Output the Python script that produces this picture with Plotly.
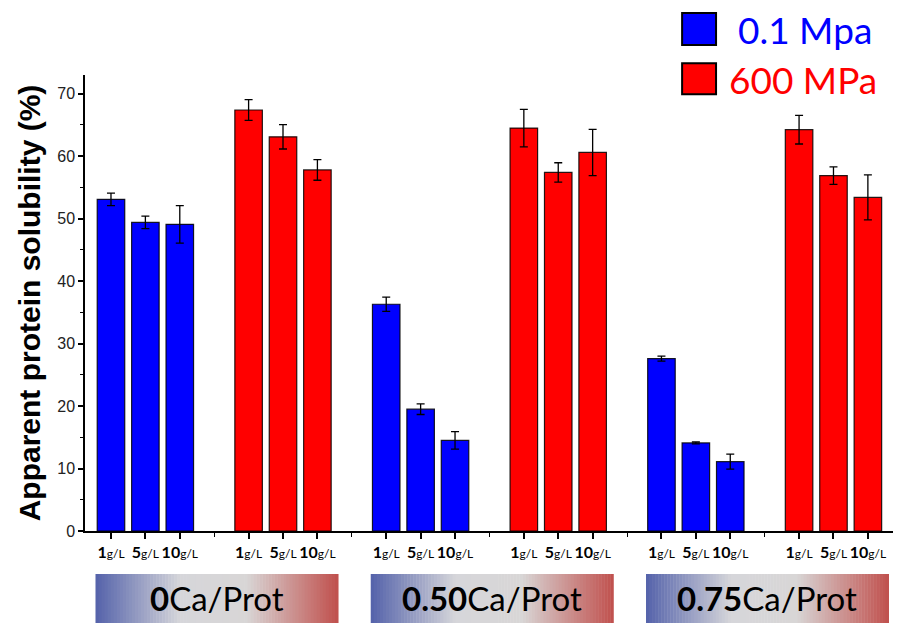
import plotly.graph_objects as go

# ---------------- data ----------------
groups = ["0", "0.50", "0.75"]                 # Ca/Prot ratio
concentrations = ["1", "5", "10"]              # g/L
pressures = ["0.1 Mpa", "600 MPa"]

blue_values = [53.1, 49.4, 49.1, 36.3, 19.5, 14.5, 27.6, 14.1, 11.1]
blue_errors = [1.0, 1.0, 3.0, 1.15, 0.85, 1.4, 0.4, 0.15, 1.2]
red_values = [67.4, 63.1, 57.8, 64.5, 57.4, 60.6, 64.25, 56.9, 53.4]
red_errors = [1.65, 1.95, 1.65, 3.0, 1.55, 3.7, 2.3, 1.4, 3.6]

colors = ["#0000FF", "#FF0000"]
text_colors = ["#0000FF", "#FF0000"]

# ---------------- layout helpers ----------------
def pos(g, p, c):
    return 1 + 8 * g + 4 * p + c

blue_x = [pos(g, 0, c) for g in range(3) for c in range(3)]
red_x = [pos(g, 1, c) for g in range(3) for c in range(3)]
tick_x = sorted(blue_x + red_x)
tick_text = ["<b>%s</b><span style='font-size:12px'>g/L</span>" % concentrations[(i % 3)]
             for i in range(len(tick_x))]

XR = [0.245, 23.73]
YR = [0, 73]

fig = go.Figure()
for xs, vals, errs, col, name in [(blue_x, blue_values, blue_errors, colors[0], pressures[0]),
                                  (red_x, red_values, red_errors, colors[1], pressures[1])]:
    fig.add_trace(go.Bar(
        x=xs, y=vals, width=0.8, name=name,
        marker=dict(color=col, line=dict(color="rgba(0,0,0,0.85)", width=1.2)),
        error_y=dict(type="data", array=errs, visible=True, color="black",
                     thickness=1.3, width=4),
        showlegend=False,
    ))

def xpaper(xd):
    return (xd - XR[0]) / (XR[1] - XR[0])

shapes = []
annotations = []

# gradient label boxes under each group
stops = [(0.0, (84, 98, 170)), (0.35, (214, 214, 218)), (0.62, (216, 214, 214)), (1.0, (192, 80, 77))]

def grad_color(t):
    for (t0, c0), (t1, c1) in zip(stops[:-1], stops[1:]):
        if t0 <= t <= t1:
            f = (t - t0) / (t1 - t0) if t1 > t0 else 0
            return "rgb(%d,%d,%d)" % tuple(round(a + (b - a) * f) for a, b in zip(c0, c1))
    return "rgb(%d,%d,%d)" % stops[-1][1]

N = 80
for gi, g in enumerate(groups):
    center = 4 + 8 * gi
    x0 = xpaper(center - 3.45)
    x1 = xpaper(center + 3.6)
    for k in range(N):
        a = x0 + (x1 - x0) * k / N
        b = x0 + (x1 - x0) * (k + 1) / N
        shapes.append(dict(type="rect", xref="paper", yref="paper", x0=a, x1=b + 0.0006,
                           y0=-0.2018, y1=-0.0943, line=dict(width=0),
                           fillcolor=grad_color((k + 0.5) / N), layer="above"))
    annotations.append(dict(xref="paper", yref="paper", x=(x0 + x1) / 2, y=-0.148,
                            text="<b>%s</b>Ca/Prot" % g, showarrow=False,
                            font=dict(family="Lato, Open Sans, sans-serif", size=33, color="black"),
                            xanchor="center", yanchor="middle"))

# custom legend
leg = [(1.0658, 1.136, 0.806, 1.100), (0.958, 1.026, 0.795, 0.991)]
for i, (y0, y1, tx, ty) in enumerate(leg):
    shapes.append(dict(type="rect", xref="paper", yref="paper", x0=0.739, x1=0.781,
                       y0=y0, y1=y1, fillcolor=colors[i], line=dict(color="black", width=2),
                       layer="above"))
    annotations.append(dict(xref="paper", yref="paper", x=tx, y=ty, text=pressures[i],
                            showarrow=False, xanchor="left", yanchor="middle",
                            font=dict(family="Lato, Open Sans, sans-serif", size=37,
                                      color=text_colors[i])))

# the page body adds an 8px offset; margins are reduced to compensate
fig.update_layout(
    width=905, height=625,
    margin=dict(l=77, r=20, t=67, b=102),
    plot_bgcolor="white", paper_bgcolor="white",
    shapes=shapes, annotations=annotations,
    barmode="overlay",
    xaxis=dict(range=XR, tickmode="array", tickvals=tick_x, ticktext=tick_text,
               ticks="outside", ticklen=6, tickwidth=1.5, tickcolor="black",
               showline=True, linecolor="black", linewidth=1.5, showgrid=False,
               zeroline=False,
               tickfont=dict(family="Lato, Open Sans, sans-serif", size=16, color="black"),
               minor=dict(tickmode="linear", tick0=0, dtick=4, ticks="outside",
                          ticklen=4, tickwidth=1.2, tickcolor="black", showgrid=False)),
    yaxis=dict(range=YR, dtick=10, ticks="outside", ticklen=5, tickwidth=1.5,
               tickcolor="black", showline=True, linecolor="black", linewidth=1.5,
               showgrid=False, zeroline=False,
               tickfont=dict(family="Arial, Liberation Sans, sans-serif", size=16, color="#222"),
               minor=dict(dtick=5, ticks="outside", ticklen=3, tickwidth=1.2,
                          tickcolor="black", showgrid=False),
               title=dict(text="<b>Apparent protein solubility (%)</b>", standoff=8,
                          font=dict(family="Arial, Liberation Sans, sans-serif", size=30,
                                    color="black"))),
)

fig.write_html("out.html")
